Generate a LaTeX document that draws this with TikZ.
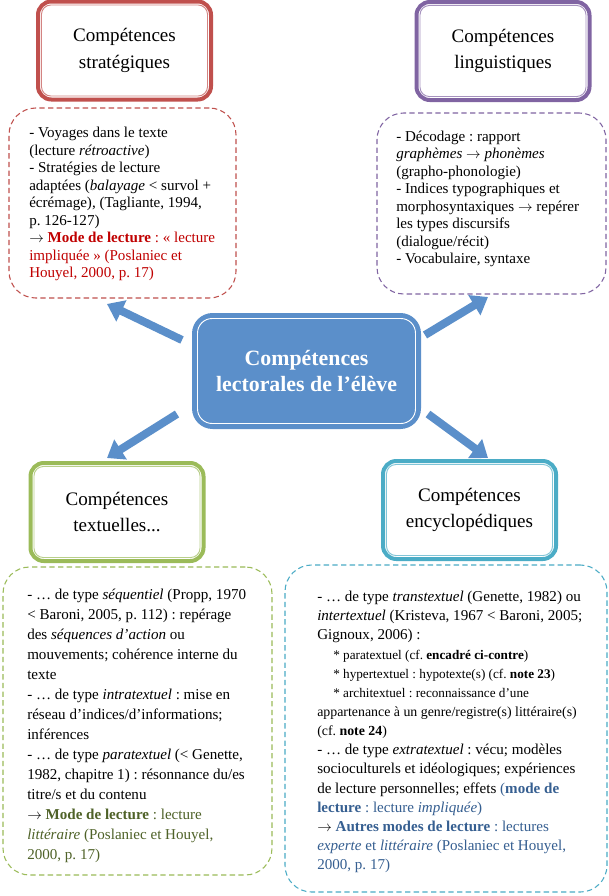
\documentclass[tikz,border=0pt]{standalone}
\usepackage{fontspec}
\setmainfont{Liberation Serif}
\usetikzlibrary{arrows.meta}

\definecolor{redline}{HTML}{C0504D}
\definecolor{purpleline}{HTML}{8064A2}
\definecolor{greenline}{HTML}{9BBB59}
\definecolor{cyanline}{HTML}{4BACC6}
\definecolor{midblue}{HTML}{5B8FCA}
\definecolor{redtext}{HTML}{C00000}
\definecolor{olivetext}{HTML}{4F6228}
\definecolor{bluetext}{HTML}{365F91}

\newcommand\subsz{\fontsize{9.9pt}{14.36pt}\selectfont}
\newcommand\midsz{\fontsize{10.4pt}{14.36pt}\selectfont}
\newcommand\ra{$\rightarrow$}
\frenchspacing

\begin{document}
\begin{tikzpicture}[x=0.75pt, y=-0.75pt]
			\tikzset{frame/.style = {draw=#1, line width=3pt, rounded corners=10pt,
			minimum width=129.75pt, minimum height=73.5pt, inner sep=0pt}}
			\tikzset{inframe/.style = {draw=#1!70, line width=0.7pt, rounded corners=7pt,
			minimum width=124.5pt, minimum height=68.25pt, inner sep=0pt, align=center,
			font=\fontsize{14.3pt}{20pt}\selectfont}}
			\tikzset{dashbox/.style = {draw=#1, line width=0.8pt,
			dash pattern=on 4pt off 2.5pt, rounded corners=20pt}}
			\tikzset{txt/.style = {anchor=west, align=left, inner sep=0pt}}
			\tikzset{bigarrow/.style = {draw=midblue, line width=6pt,
			-{Triangle[length=12pt, width=17pt]}}}
			
			\fill[white] (0,0) rectangle (608,896);
			\useasboundingbox (0,0) rectangle (608,896);
			
			\node[frame=midblue, fill=midblue, minimum width=168.75pt,
			minimum height=84pt, rounded corners=14pt] (centre) at (306.5, 371) {};
			\node[inframe=white, draw=white, text=white, minimum width=163.5pt,
			minimum height=78.75pt, rounded corners=11pt,
			font=\bfseries\fontsize{16.4pt}{20pt}\selectfont] (centre_in) at (centre)
			{Compétences\\lectorales de l’élève};
			
			\node[frame=redline] (strat) at (124.5, 50.5) {};
			\node[inframe=redline] (strat_in) at (strat) {Compétences\\stratégiques};
			\node[frame=purpleline] (ling) at (503, 51) {};
			\node[inframe=purpleline] (ling_in) at (ling) {Compétences\\linguistiques};
			\node[frame=greenline] (textu) at (117, 512) {};
			\node[inframe=greenline] (textu_in) at (textu) {Compétences\\textuelles...};
			\node[frame=cyanline] (ency) at (469.5, 510) {};
			\node[inframe=cyanline] (ency_in) at (ency) {Compétences\\encyclopédiques};
			
			\node[dashbox=redline, minimum width=170.25pt, minimum height=142.5pt]
			(strat_box) at (122.5, 203) {};
			\node[dashbox=purpleline, minimum width=171.75pt, minimum height=135.75pt]
			(ling_box) at (491.5, 203.5) {};
			\node[dashbox=greenline, minimum width=201.75pt, minimum height=231pt]
			(textu_box) at (137.5, 721) {};
			\node[dashbox=cyanline, minimum width=241.5pt, minimum height=245.25pt]
			(ency_box) at (446, 728.5) {};
			
			\node[txt, font=\fontsize{11.3pt}{13.1pt}\selectfont] (strat_txt) at (29, 204)
			{- Voyages dans le texte\\
			(lecture \textit{rétroactive})\\
			- Stratégies de lecture\\
			adaptées (\textit{balayage} < survol +\\
			écrémage), (Tagliante, 1994,\\
			p. 126-127)\\
			\ra{} \textcolor{redtext}{\textbf{Mode de lecture} : « lecture}\\
			\textcolor{redtext}{impliquée » (Poslaniec et}\\
			\textcolor{redtext}{Houyel, 2000, p. 17)}};
			
			\node[txt, font=\fontsize{11.3pt}{13.1pt}\selectfont] (ling_txt) at (396, 199)
			{- Décodage : rapport\\
			\textit{graphèmes} \ra{} \textit{phonèmes}\\
			(grapho-phonologie)\\
			- Indices typographiques et\\
			morphosyntaxiques \ra{} repérer\\
			les types discursifs\\
			(dialogue/récit)\\
			- Vocabulaire, syntaxe};
			
			\node[txt, font=\fontsize{11.3pt}{15pt}\selectfont] (textu_txt) at (27, 726)
			{- … de type \textit{séquentiel} (Propp, 1970\\
			< Baroni, 2005, p. 112) : repérage\\
			des \textit{séquences d’action} ou\\
			mouvements; cohérence interne du\\
			texte\\
			- … de type \textit{intratextuel} : mise en\\
			réseau d’indices/d’informations;\\
			inférences\\
			- … de type \textit{paratextuel} (< Genette,\\
			1982, chapitre 1) : résonnance du/es\\
			titre/s et du contenu\\
			\ra{} \textcolor{olivetext}{\textbf{Mode de lecture} : lecture}\\
			\textcolor{olivetext}{\textit{littéraire} (Poslaniec et Houyel,}\\
			\textcolor{olivetext}{2000, p. 17)}};
			
			\node[txt, font=\fontsize{11.3pt}{14.36pt}\selectfont] (ency_txt) at (317, 732)
			{- … de type \textit{transtextuel} (Genette, 1982) ou\\
			\textit{intertextuel} (Kristeva, 1967 < Baroni, 2005;\\
			Gignoux, 2006) :\\
			{\subsz\hspace*{12pt}* paratextuel (cf. \textbf{encadré ci-contre})}\\
			{\subsz\hspace*{12pt}* hypertextuel : hypotexte(s) (cf. \textbf{note 23})}\\
			{\subsz\hspace*{12pt}* architextuel : reconnaissance d’une}\\
			{\midsz appartenance à un genre/registre(s) littéraire(s)}\\
			{\midsz (cf. \textbf{note 24})}\\
			- … de type \textit{extratextuel} : vécu; modèles\\
			socioculturels et idéologiques; expériences\\
			de lecture personnelles; effets \textcolor{bluetext}{(\textbf{mode de}}\\
			\textcolor{bluetext}{\textbf{lecture} : lecture \textit{impliquée})}\\
			\ra{} \textcolor{bluetext}{\textbf{Autres modes de lecture} : lectures}\\
			\textcolor{bluetext}{\textit{experte} et \textit{littéraire} (Poslaniec et Houyel,}\\
			\textcolor{bluetext}{2000, p. 17)}};
			
			\coordinate (a_strat_s) at (182, 340);
			\coordinate (a_strat_e) at (107, 304);
			\coordinate (a_ling_s) at (425, 335);
			\coordinate (a_ling_e) at (488, 297);
			\coordinate (a_textu_s) at (177, 414);
			\coordinate (a_textu_e) at (107, 458);
			\coordinate (a_ency_s) at (428, 414);
			\coordinate (a_ency_e) at (488, 458);
			
			\draw[bigarrow] (a_strat_s) -- (a_strat_e);
			\draw[bigarrow] (a_ling_s) -- (a_ling_e);
			\draw[bigarrow] (a_textu_s) -- (a_textu_e);
			\draw[bigarrow] (a_ency_s) -- (a_ency_e);
		\end{tikzpicture}
\end{document}
